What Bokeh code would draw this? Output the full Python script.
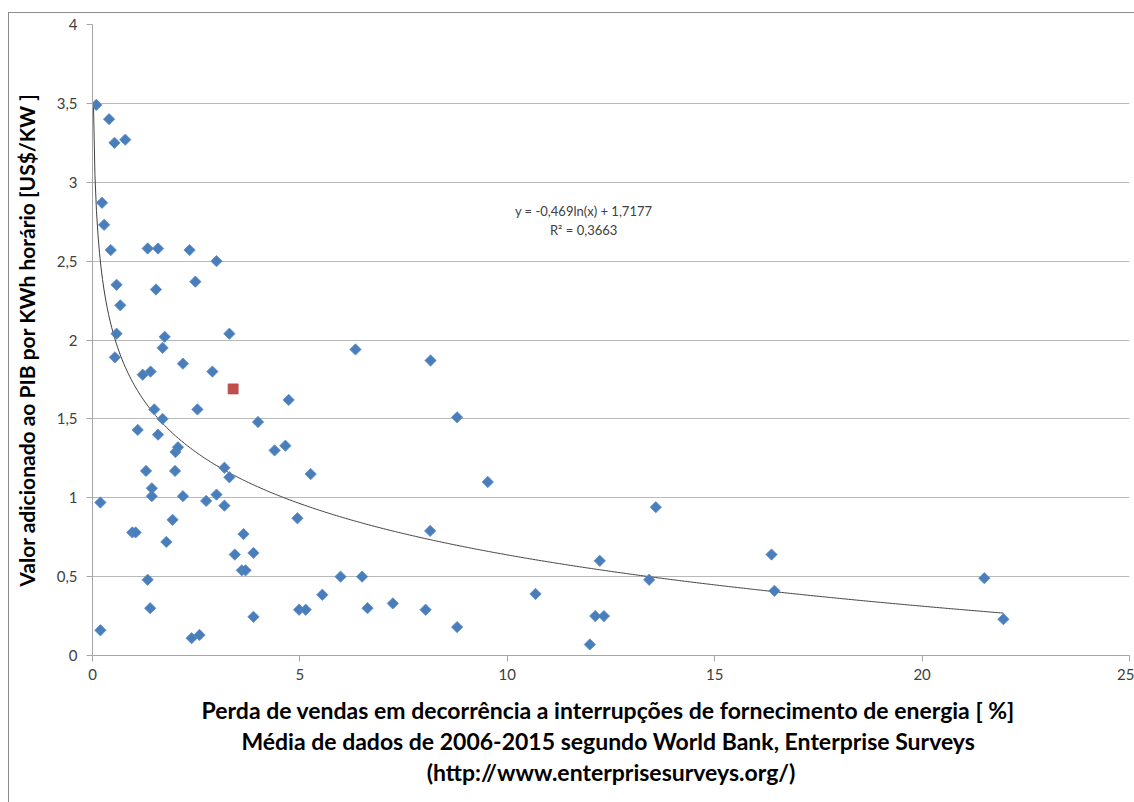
import numpy as np
from bokeh.plotting import figure
from bokeh.models import (ColumnDataSource, Label, FixedTicker, InlineStyleSheet,
                          CustomJSTickFormatter, Range1d)
from bokeh.embed import file_html
from bokeh.resources import INLINE

# Perda de vendas [%] (x) e valor adicionado ao PIB por KWh [US$/KW] (y)
perda = [0.09, 0.40, 0.53, 0.79, 0.23, 0.28, 0.44, 1.33, 1.58, 2.34,
         2.99, 0.58, 1.53, 2.48, 0.67, 0.58, 1.74, 1.69, 3.30, 0.54,
         2.18, 1.21, 1.40, 2.89, 4.73, 1.49, 2.53, 1.69, 3.99, 1.09,
         1.58, 4.39, 4.65, 5.26, 4.94, 6.34, 8.15, 8.79, 9.53, 8.14,
         8.03, 8.79, 10.68, 13.58, 12.23, 13.42, 16.37, 16.44, 12.12, 12.33,
         11.99, 21.50, 21.96, 4.98, 5.14, 5.54, 5.98, 6.50, 6.63, 7.24,
         0.19, 0.19, 1.29, 1.43, 1.43, 2.00, 2.06, 1.99, 2.18, 2.74,
         2.99, 3.18, 3.18, 3.30, 0.96, 1.04, 1.93, 1.78, 3.64, 3.43,
         3.88, 3.60, 3.69, 1.33, 1.39, 3.88, 2.39, 2.58]
valor = [3.49, 3.40, 3.25, 3.27, 2.87, 2.73, 2.57, 2.58, 2.58, 2.57,
         2.50, 2.35, 2.32, 2.37, 2.22, 2.04, 2.02, 1.95, 2.04, 1.89,
         1.85, 1.78, 1.80, 1.80, 1.62, 1.56, 1.56, 1.50, 1.48, 1.43,
         1.40, 1.30, 1.33, 1.15, 0.87, 1.94, 1.87, 1.51, 1.10, 0.79,
         0.29, 0.18, 0.39, 0.94, 0.60, 0.48, 0.64, 0.41, 0.25, 0.25,
         0.07, 0.49, 0.23, 0.29, 0.29, 0.385, 0.50, 0.50, 0.30, 0.33,
         0.97, 0.16, 1.17, 1.06, 1.01, 1.29, 1.32, 1.17, 1.01, 0.98,
         1.02, 0.95, 1.19, 1.13, 0.78, 0.78, 0.86, 0.72, 0.77, 0.64,
         0.65, 0.54, 0.54, 0.48, 0.30, 0.245, 0.11, 0.13]

# Ponto destacado (vermelho)
destaque_x = [3.39]
destaque_y = [1.69]

# Linha de tendência logarítmica
coef_a = -0.469
coef_b = 1.7177
r2 = 0.3663
trend_xmin = 0.022
trend_xmax = max(perda)

x_ticks = [0, 5, 10, 15, 20, 25]
y_ticks = [0, 0.5, 1, 1.5, 2, 2.5, 3, 3.5, 4]

FONT = "Lato"

border_css = InlineStyleSheet(css="""
:host { position: relative; overflow: hidden; }
:host::after {
  content: ""; position: absolute; left: 8px; top: 12px; right: -5px; bottom: -5px;
  border: 1px solid #8c8c8c; pointer-events: none; z-index: 10;
}
""")

p = figure(width=1134, height=802, output_backend="svg", toolbar_location=None,
           x_range=Range1d(0, 25), y_range=Range1d(0, 4),
           min_border_left=92, min_border_right=5, min_border_top=24,
           min_border_bottom=147, stylesheets=[border_css])
p.background_fill_color = "white"
p.border_fill_color = "white"
p.outline_line_color = None

# grid
p.xgrid.grid_line_color = None
p.ygrid.grid_line_color = "#b9b9b9"
p.ygrid.grid_line_width = 1
p.ygrid.ticker = FixedTicker(ticks=y_ticks)

fmt = CustomJSTickFormatter(code="return tick.toString().replace('.', ',');")

for ax, ticks in ((p.xaxis[0], x_ticks), (p.yaxis[0], y_ticks)):
    ax.ticker = FixedTicker(ticks=ticks)
    ax.formatter = fmt
    ax.minor_tick_line_color = None
    ax.major_tick_in = 0
    ax.major_tick_out = 6
    ax.major_tick_line_color = "#a6a6a6"
    ax.axis_line_color = "#a6a6a6"
    ax.major_label_text_font = FONT
    ax.major_label_text_font_size = "15px"
    ax.major_label_text_color = "#404040"
    ax.axis_label_text_font = FONT
    ax.axis_label_text_font_style = "bold"
    ax.axis_label_text_color = "black"

p.xaxis.major_label_standoff = 7
p.yaxis.major_label_standoff = 9
p.yaxis.axis_label = "Valor adicionado ao PIB por KWh horário [US$/KW ]"
p.yaxis.axis_label_text_font_size = "21px"
p.yaxis.axis_label_standoff = 15
p.xaxis.axis_label = ("Perda de vendas em decorrência a interrupções de fornecimento de  energia [ %]\n"
                      "Média de dados de 2006-2015 segundo  World Bank, Enterprise Surveys\n"
                      "(http://www.enterprisesurveys.org/)")
p.xaxis.axis_label_text_font_size = "23px"
p.xaxis.axis_label_standoff = 13
p.xaxis.axis_label_text_line_height = 1.12

# trend line
tx = np.linspace(trend_xmin, trend_xmax, 600)
ty = coef_a * np.log(tx) + coef_b
p.line(tx, ty, line_color="#404040", line_width=1)

src = ColumnDataSource(dict(x=perda, y=valor))
p.scatter("x", "y", source=src, marker="square", angle=np.pi / 4, size=8,
          fill_color="#4a7ebb", line_color="#5b8cc8", line_width=0.8)
p.scatter(destaque_x, destaque_y, marker="square", size=10,
          fill_color="#c0504d", line_color="#b84a47", line_width=0.8)

eq = "y = " + f"{coef_a}".replace(".", ",") + "ln(x) + " + f"{coef_b}".replace(".", ",")
p.add_layout(Label(x=11.84, y=2.815, text=eq, text_align="center", text_baseline="middle",
                   text_font=FONT, text_font_size="13px", text_color="#404040"))
p.add_layout(Label(x=11.84, y=2.70, text="R² = " + f"{r2}".replace(".", ","),
                   text_align="center", text_baseline="middle",
                   text_font=FONT, text_font_size="13px", text_color="#404040"))

open("out.html", "w").write(file_html(p, INLINE))
